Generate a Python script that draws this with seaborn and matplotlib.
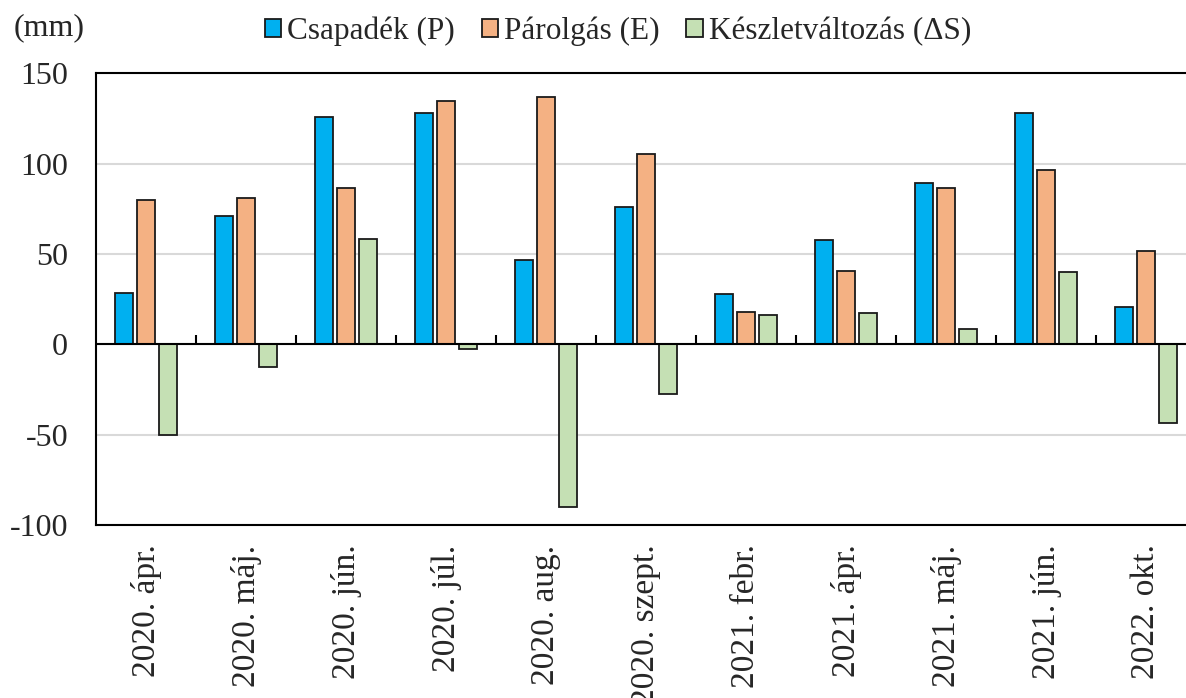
import numpy as np
import pandas as pd
import matplotlib
matplotlib.use('Agg')
import matplotlib.pyplot as plt
import seaborn as sns

# Data
honapok = ['2020. ápr.', '2020. máj.', '2020. jún.', '2020. júl.', '2020. aug.',
           '2020. szept.', '2021. febr.', '2021. ápr.', '2021. máj.', '2021. jún.',
           '2022. okt.']
csapadek = [28.2, 71.2, 126.0, 127.8, 46.7, 75.8, 27.7, 57.7, 89.4, 127.8, 20.8]
parolgas = [79.7, 80.8, 86.3, 134.8, 136.9, 105.1, 18.0, 40.6, 86.3, 96.3, 51.8]
keszlet = [-50.2, -12.4, 58.4, -2.8, -90.0, -27.7, 16.2, 17.1, 8.3, 40.0, -43.4]
sorozatok = ['Csapadék (P)', 'Párolgás (E)', 'Készletváltozás (ΔS)']
szinek = ['#00B0F0', '#F4B183', '#C5E0B4']

df = pd.DataFrame({
    'honap': honapok * 3,
    'mm': csapadek + parolgas + keszlet,
    'sor': np.repeat(sorozatok, len(honapok)),
})

sns.set_style('white')
plt.rcParams['font.family'] = ['Liberation Serif', 'DejaVu Serif']
plt.rcParams['axes.unicode_minus'] = False

fig = plt.figure(figsize=(11.86, 6.98), dpi=100)
ax = fig.add_axes([96 / 1186, 173 / 698, 1100 / 1186, 451.7 / 698])

sns.barplot(data=df, x='honap', y='mm', hue='sor', palette=szinek,
            width=0.66, gap=0.18, edgecolor='#1a1a1a', linewidth=1.3,
            saturation=1, ax=ax, zorder=3)

ax.set_ylim(-100, 150)
ax.set_xlim(-0.5, len(honapok) - 0.5)
ax.set_yticks([-100, -50, 0, 50, 100, 150])
ax.yaxis.grid(True, color='#d9d9d9', linewidth=1.5, zorder=0)
ax.set_axisbelow(True)
ax.axhline(0, color='black', linewidth=1.5, zorder=4)
# small category separator ticks on the zero line
ax.vlines(np.arange(len(honapok) - 1) + 0.5, 0, 5, color='black', linewidth=1.5, zorder=4)

for s in ax.spines.values():
    s.set_color('black')
    s.set_linewidth(1.5)

ax.tick_params(axis='y', direction='in', length=6, width=1.5, labelsize=23, pad=20)
ax.tick_params(axis='x', length=0, labelsize=24, pad=14)
plt.setp(ax.get_xticklabels(), rotation=90, ha='center', va='top')
ax.set_xlabel('')
ax.set_ylabel('')

fig.text(14 / 1186, 1 - 28 / 698, '(mm)', fontsize=23, va='center', ha='left')

ax.legend_.remove()
handles = [plt.Rectangle((0, 0), 1, 1, facecolor=c, edgecolor='#1a1a1a', linewidth=1.3) for c in szinek]
fig.legend(handles, sorozatok, loc='center', bbox_to_anchor=(618 / 1186, 1 - 31 / 698),
           ncol=3, frameon=False, fontsize=22.5, handlelength=0.52, handleheight=0.52,
           handletextpad=0.2, columnspacing=0.85, borderpad=0)

fig.savefig('out.png', dpi=100)
